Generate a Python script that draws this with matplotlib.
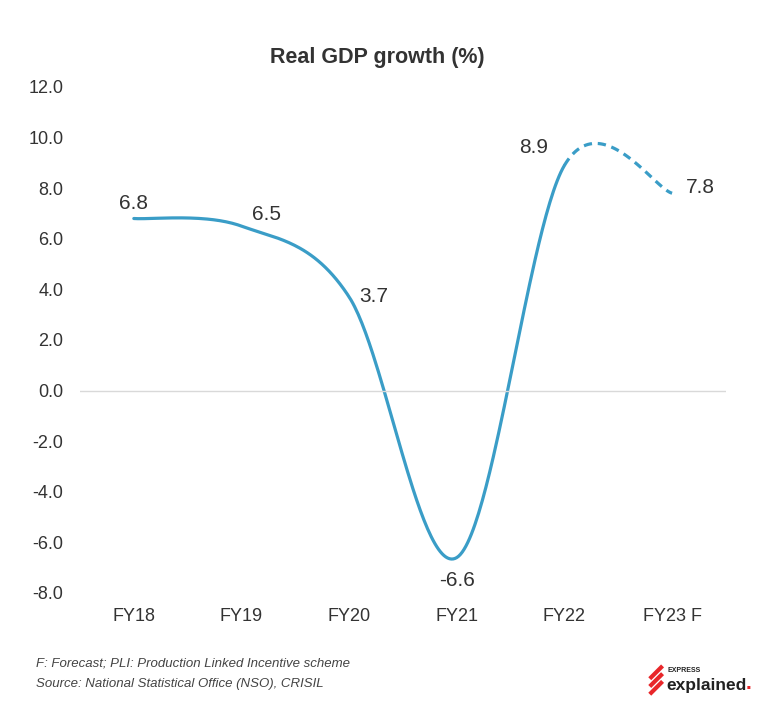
import numpy as np
import matplotlib.pyplot as plt

plt.rcParams['font.family'] = ['Liberation Sans', 'DejaVu Sans']

years = ["FY18", "FY19", "FY20", "FY21", "FY22", "FY23 F"]
growth = [6.8, 6.5, 3.7, -6.6, 8.9, 7.8]
yticks = [-8, -6, -4, -2, 0, 2, 4, 6, 8, 10, 12]

line_color = "#3a9dc7"
text_color = "#333333"


def smooth(xs, ys, n=60):
    # Catmull-Rom style smoothing, like the spreadsheet's smoothed line
    pts = np.column_stack([xs, ys]).astype(float)
    ext = np.vstack([pts[0], pts, pts[-1]])
    segs = []
    for i in range(1, len(ext) - 2):
        p0, p1, p2, p3 = ext[i - 1], ext[i], ext[i + 1], ext[i + 2]
        c1 = p1 + (p2 - p0) / 6
        c2 = p2 - (p3 - p1) / 6
        t = np.linspace(0, 1, n)[:, None]
        seg = ((1 - t) ** 3) * p1 + 3 * ((1 - t) ** 2) * t * c1 + 3 * (1 - t) * t ** 2 * c2 + t ** 3 * p2
        segs.append(seg)
    return segs


fig = plt.figure(figsize=(7.59, 7.04), dpi=100)
ax = fig.add_axes([0.1054, 0.1577, 0.851, 0.7188])

x = np.arange(len(years))
segs = smooth(x, growth)
solid = np.vstack(segs[:4])
ax.plot(solid[:, 0], solid[:, 1], color=line_color, lw=2.3, solid_capstyle='round')
ax.plot(segs[4][:, 0], segs[4][:, 1], color=line_color, lw=2.3, linestyle=(0, (2.6, 1.8)))

offsets = [(0, 11, 'center', 'center'), (18, 8, 'center', 'center'), (7, 0, 'left', 'center'),
           (0, -10, 'center', 'top'), (-12, 6, 'right', 'bottom'), (10, 4, 'left', 'center')]
for xi, v, (dx, dy, ha, va) in zip(x, growth, offsets):
    ax.annotate(f"{v:.1f}", (xi, v), xytext=(dx, dy), textcoords='offset points',
                ha=ha, va=va, fontsize=15, color=text_color)

ax.axhline(0, color="#d9d9d9", lw=1)
ax.set_xlim(-0.5, len(years) - 0.5)
ax.set_ylim(-8, 12)
ax.set_yticks(yticks)
ax.set_yticklabels([f"{t:.1f}" for t in yticks])
ax.set_xticks(x)
ax.set_xticklabels(years)
ax.tick_params(length=0, labelsize=13, colors=text_color, pad=11)
ax.tick_params(axis='y', pad=12)
for s in ax.spines.values():
    s.set_visible(False)

fig.text(0.497, 0.918, "Real GDP growth (%)", ha='center', va='center',
         fontsize=15.5, fontweight='bold', color=text_color)
fig.text(0.047, 0.058, "F: Forecast; PLI: Production Linked Incentive scheme",
         fontsize=9.5, style='italic', color="#444444", va='center')
fig.text(0.047, 0.028, "Source: National Statistical Office (NSO), CRISIL",
         fontsize=9.5, style='italic', color="#444444", va='center')

# logo
for k in range(3):
    y0 = 0.045 - k * 0.011
    fig.lines.append(plt.Line2D([0.858, 0.871], [y0 - 0.007, y0 + 0.007], transform=fig.transFigure,
                                color="#e8262a", lw=3))
fig.text(0.880, 0.043, "EXPRESS", fontsize=5, fontweight='bold', color="#222222", va='bottom')
logo = fig.text(0.878, 0.016, "explained", fontsize=12.5, fontweight='bold', color="#222222", va='bottom')
ax.annotate(".", xy=(1, 0), xycoords=logo, xytext=(-0.5, 0), textcoords='offset points',
            fontsize=15, fontweight='bold', color="#e8262a", va='bottom', annotation_clip=False)

fig.savefig("out.png", dpi=100, facecolor='white')
